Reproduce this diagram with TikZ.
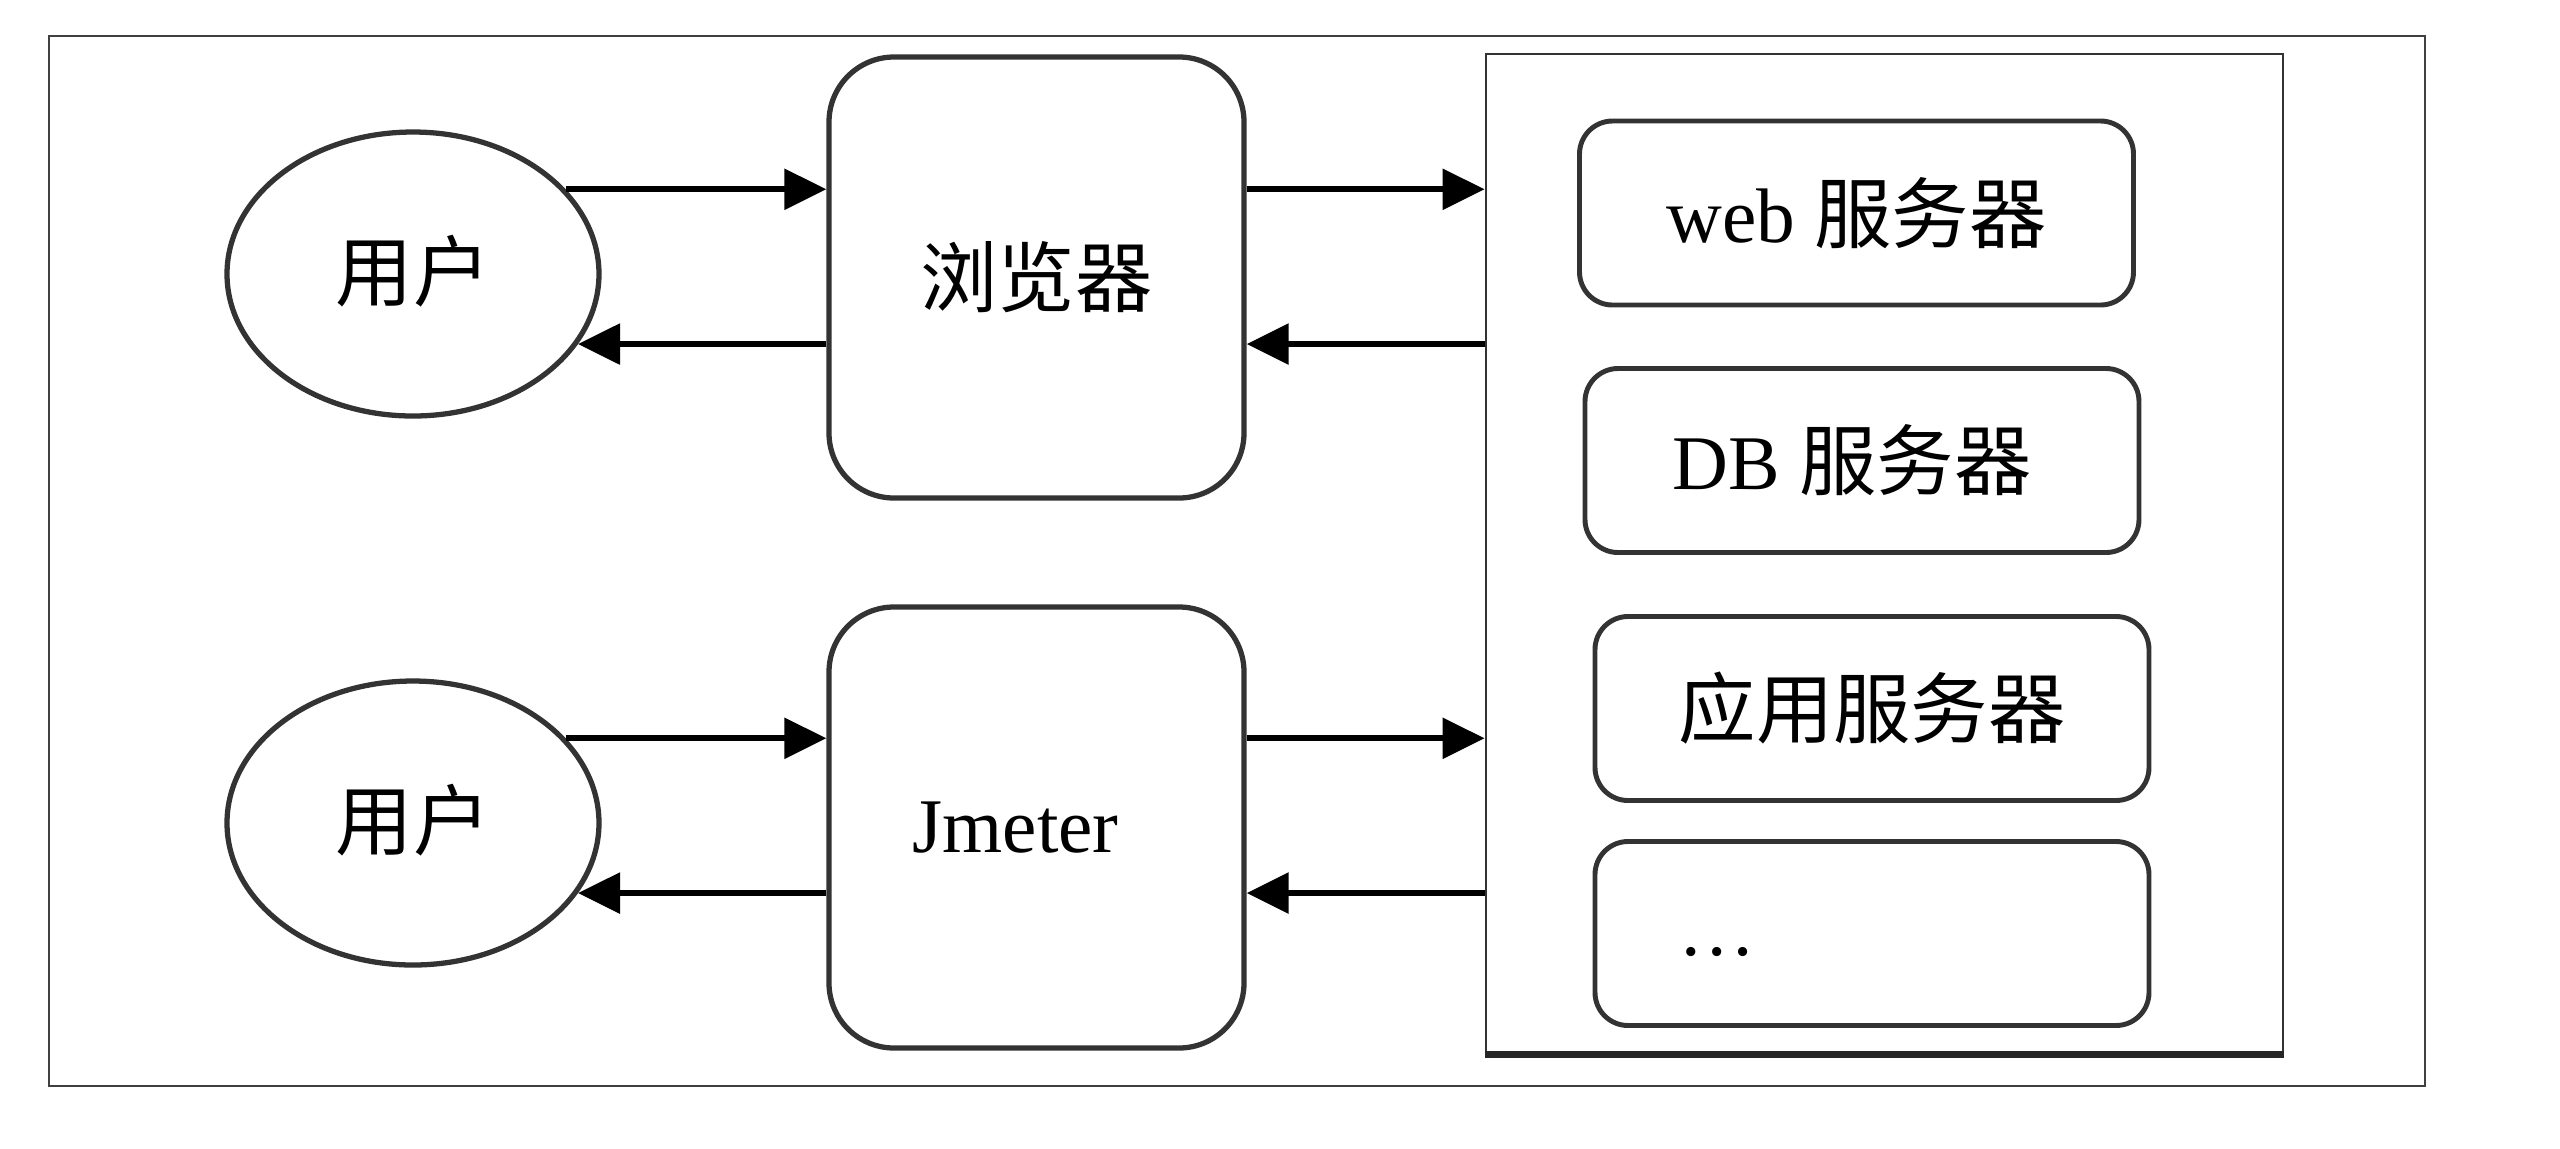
\documentclass[tikz,border=0pt]{standalone}
\usepackage{fontspec}
\setmainfont{Liberation Serif}
\newfontfamily\cjk{Noto Sans CJK SC}
\usetikzlibrary{shapes.geometric,arrows.meta,positioning,calc}

\begin{document}
\begin{tikzpicture}[
    userell/.style={ellipse,draw=black!80,line width=1.5pt,minimum width=3.72cm,minimum height=2.84cm,inner sep=0pt},
    client/.style={rectangle,rounded corners=0.65cm,draw=black!80,line width=1.5pt,minimum width=4.15cm,minimum height=4.41cm},
    server/.style={rectangle,rounded corners=0.33cm,draw=black!80,line width=1.4pt,minimum width=5.54cm,minimum height=1.84cm},
    flow/.style={line width=1.7pt,-{Triangle[length=0.42cm,width=0.4cm]}},
    font=\fontsize{22}{26}\selectfont
  ]
  \useasboundingbox (0,0) rectangle (25.6,-11.48);
  % outer frame
  \draw[black!75,line width=0.8pt] (0.49,-0.36) rectangle (24.25,-10.86);
  % users and clients
  \node[userell] (user1) at (4.13,-2.74) {\cjk\raisebox{0.13cm}{用户}};
  \node[userell] (user2) at (4.13,-8.23) {\cjk\raisebox{0.13cm}{用户}};
  \node[client] (browser) at (10.365,-2.775) {\cjk 浏览器};
  \node[client] (jmeter) at (10.365,-8.275) {\hspace*{-0.42cm}\raisebox{-0.08cm}{Jmeter}};
  % server side
  \node[rectangle,draw=black!80,line width=0.8pt,minimum width=7.97cm,minimum height=9.99cm] (srv) at (18.845,-5.535) {};
  \draw[black!85,line width=2pt] (srv.south west) -- (srv.south east);
  \node[server] (web) at (18.565,-2.13) {web {\cjk 服务器}};
  \node[server] (db) at (18.62,-4.605) {\hspace*{-0.2cm}DB {\cjk 服务器}};
  \node[server] (app) at (18.72,-7.085) {\cjk 应用服务器};
  \node[server,text width=3.88cm,align=left] (more) at (18.72,-9.335) {\raisebox{-0.45cm}{\ldots}};
  % requests and responses, top row
  \draw[flow] (user1.29) -- (user1.29 -| browser.west);
  \draw[flow] (user1.29 -| browser.east) -- (user1.29 -| srv.west);
  \draw[flow] (user1.-23 -| srv.west) -- (user1.-23 -| browser.east);
  \draw[flow] (user1.-23 -| browser.west) -- (user1.-23);
  % bottom row
  \draw[flow] (user2.29) -- (user2.29 -| jmeter.west);
  \draw[flow] (user2.29 -| jmeter.east) -- (user2.29 -| srv.west);
  \draw[flow] (user2.-23 -| srv.west) -- (user2.-23 -| jmeter.east);
  \draw[flow] (user2.-23 -| jmeter.west) -- (user2.-23);
\end{tikzpicture}
\end{document}
